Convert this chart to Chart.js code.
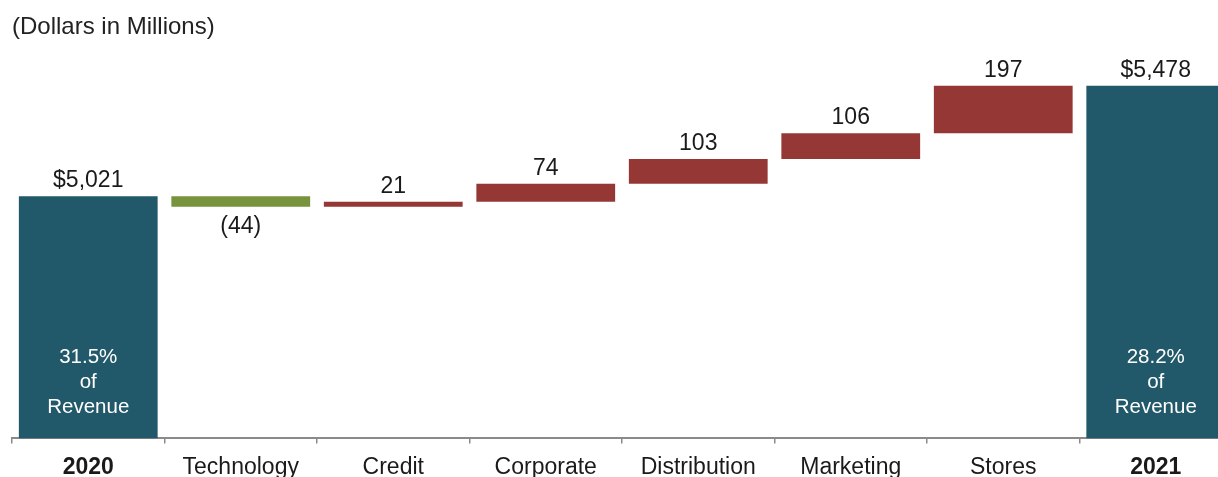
<!DOCTYPE html>
<html>
<head>
<meta charset="utf-8">
<script src="https://cdn.jsdelivr.net/npm/chart.js@4/dist/chart.umd.min.js"></script>
<style>
  html, body { margin: 0; padding: 0; background: #ffffff; overflow: hidden; width: 1218px; height: 477px; }
  #wrap { width: 1218px; height: 477px; overflow: hidden; position: relative; }
  canvas { display: block; }
</style>
</head>
<body>
<div id="wrap"><canvas id="c" width="1232" height="491"></canvas></div>
<script>
// ---- data ----
const categories = ['2020', 'Technology', 'Credit', 'Corporate', 'Distribution', 'Marketing', 'Stores', '2021'];
const startTotal = 5021;
const endTotal = 5478;
const changes = [-44, 21, 74, 103, 106, 197];
const valueLabels = ['$5,021', '(44)', '21', '74', '103', '106', '197', '$5,478'];
const insideLabels2020 = ['31.5%', 'of', 'Revenue'];
const insideLabels2021 = ['28.2%', 'of', 'Revenue'];
const axisMin = 4018;
const axisMax = 5660;

// ---- build floating bars ----
const barData = [];
const barColors = [];
barData.push([axisMin, startTotal]);
barColors.push('#22596A');
let running = startTotal;
changes.forEach(ch => {
  const next = running + ch;
  barData.push([Math.min(running, next), Math.max(running, next)]);
  barColors.push(ch < 0 ? '#77933C' : '#953735');
  running = next;
});
barData.push([axisMin, endTotal]);
barColors.push('#22596A');

const FONT = '"Liberation Sans", Arial, sans-serif';

const labelPlugin = {
  id: 'wfLabels',
  afterDatasetsDraw(chart) {
    const ctx = chart.ctx;
    const meta = chart.getDatasetMeta(0);
    ctx.save();
    ctx.textAlign = 'center';
    ctx.textBaseline = 'alphabetic';
    meta.data.forEach((bar, i) => {
      const top = Math.min(bar.y, bar.base);
      const bottom = Math.max(bar.y, bar.base);
      ctx.fillStyle = '#1a1a1a';
      ctx.font = '23px ' + FONT;
      const isNeg = i > 0 && i < categories.length - 1 && changes[i - 1] < 0;
      if (isNeg) {
        ctx.fillText(valueLabels[i], bar.x, bottom + 26);
      } else {
        ctx.fillText(valueLabels[i], bar.x, top - 9);
      }
    });
    // inside labels for total bars
    const yb = chart.scales.y.bottom;
    ctx.fillStyle = '#ffffff';
    ctx.font = '20.5px ' + FONT;
    [[0, insideLabels2020], [categories.length - 1, insideLabels2021]].forEach(([idx, lines]) => {
      const bar = meta.data[idx];
      lines.forEach((t, k) => {
        ctx.fillText(t, bar.x, yb - 75 + k * 25);
      });
    });
    ctx.restore();
  }
};

new Chart(document.getElementById('c'), {
  type: 'bar',
  data: {
    labels: categories,
    datasets: [{
      data: barData,
      backgroundColor: barColors,
      borderWidth: 0,
      barPercentage: 0.91,
      categoryPercentage: 1.0,
      borderSkipped: false
    }]
  },
  options: {
    responsive: false,
    animation: false,
    devicePixelRatio: 1,
    layout: { padding: { left: 12, right: 0, top: 0, bottom: 0 } },
    plugins: {
      legend: { display: false },
      tooltip: { enabled: false },
      title: {
        display: true,
        text: '(Dollars in Millions)',
        align: 'start',
        color: '#222222',
        font: { family: FONT, size: 24, weight: 'normal' },
        padding: { top: 13, bottom: 0 }
      }
    },
    scales: {
      x: {
        offset: true,
        grid: {
          display: true,
          offset: true,
          drawOnChartArea: false,
          drawTicks: true,
          tickLength: 5,
          color: '#8a8a8a',
          lineWidth: 1.5
        },
        border: { display: true, color: '#8a8a8a', width: 2 },
        ticks: {
          color: '#1a1a1a',
          padding: 10,
          maxRotation: 0,
          autoSkip: false,
          font: (ctx) => ({
            family: FONT,
            size: 23,
            weight: (ctx.index === 0 || ctx.index === categories.length - 1) ? 'bold' : 'normal'
          })
        }
      },
      y: {
        display: false,
        min: axisMin,
        max: axisMax
      }
    }
  },
  plugins: [labelPlugin]
});
</script>
</body>
</html>
